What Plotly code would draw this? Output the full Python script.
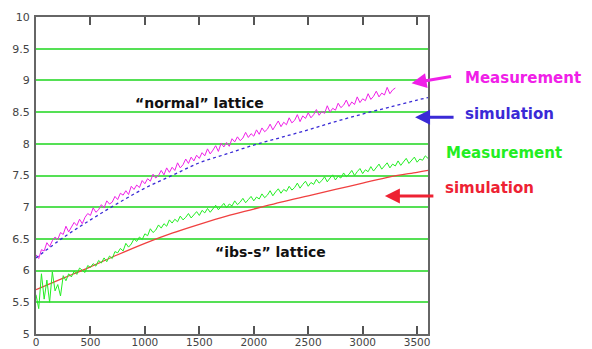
import plotly.graph_objects as go

# ---- data ----
meas_normal_x = list(range(0, 3301, 25))
meas_normal_y = [
    6.25, 6.19, 6.33, 6.31, 6.44, 6.38, 6.47, 6.53, 6.49, 6.60,
    6.57, 6.70, 6.61, 6.68, 6.76, 6.71, 6.81, 6.74, 6.84, 6.90,
    6.87, 6.99, 6.92, 6.96, 7.04, 6.99, 7.10, 7.05, 7.08, 7.17,
    7.12, 7.22, 7.19, 7.26, 7.20, 7.33, 7.28, 7.35, 7.31, 7.42,
    7.37, 7.45, 7.41, 7.52, 7.46, 7.50, 7.58, 7.51, 7.62, 7.55,
    7.63, 7.58, 7.70, 7.62, 7.67, 7.76, 7.69, 7.79, 7.73, 7.82,
    7.77, 7.86, 7.81, 7.92, 7.84, 7.90, 7.97, 7.88, 8.01, 7.95,
    8.02, 7.96, 8.08, 8.03, 8.11, 8.05, 8.09, 8.18, 8.10, 8.16,
    8.12, 8.22, 8.15, 8.25, 8.19, 8.23, 8.31, 8.22, 8.28, 8.36,
    8.27, 8.34, 8.30, 8.41, 8.33, 8.37, 8.46, 8.35, 8.44, 8.40,
    8.49, 8.41, 8.46, 8.54, 8.45, 8.51, 8.48, 8.60, 8.50, 8.56,
    8.53, 8.64, 8.57, 8.61, 8.69, 8.59, 8.66, 8.62, 8.74, 8.65,
    8.71, 8.68, 8.79, 8.70, 8.75, 8.83, 8.74, 8.80, 8.77, 8.89,
    8.79, 8.85, 8.88,
]

meas_ibs_x = list(range(0, 3601, 25))
meas_ibs_y = [
    5.62, 5.40, 5.95, 5.55, 5.85, 5.50, 5.98, 5.68, 5.78, 5.60,
    5.92, 5.84, 5.95, 5.90, 5.99, 5.94, 6.04, 6.00, 5.97, 6.08,
    6.05, 6.11, 6.07, 6.16, 6.12, 6.20, 6.14, 6.23, 6.19, 6.30,
    6.28, 6.35, 6.31, 6.43, 6.37, 6.42, 6.50, 6.46, 6.53, 6.49,
    6.58, 6.55, 6.66, 6.60, 6.64, 6.72, 6.67, 6.74, 6.70, 6.80,
    6.75, 6.81, 6.77, 6.86, 6.80, 6.84, 6.90, 6.83, 6.88, 6.93,
    6.87, 6.95, 6.91, 6.98, 6.92, 6.97, 7.03, 6.96, 7.01, 7.06,
    6.99, 7.05, 7.02, 7.10, 7.04, 7.08, 7.14, 7.07, 7.12, 7.17,
    7.10, 7.16, 7.13, 7.21, 7.15, 7.19, 7.26, 7.18, 7.24, 7.29,
    7.22, 7.28, 7.25, 7.33, 7.27, 7.31, 7.38, 7.30, 7.36, 7.41,
    7.33, 7.39, 7.36, 7.44, 7.38, 7.42, 7.48, 7.40, 7.46, 7.51,
    7.43, 7.49, 7.46, 7.54, 7.48, 7.52, 7.58, 7.50, 7.56, 7.61,
    7.53, 7.59, 7.56, 7.64, 7.57, 7.62, 7.68, 7.60, 7.66, 7.70,
    7.62, 7.68, 7.65, 7.73, 7.66, 7.71, 7.77, 7.69, 7.75, 7.79,
    7.71, 7.76, 7.74, 7.81, 7.77,
]

sim_x = [0, 250, 500, 750, 1000, 1250, 1500, 1750, 2000, 2250, 2500, 2750, 3000, 3250, 3500, 3600]
sim_normal_y = [6.20, 6.52, 6.80, 7.06, 7.30, 7.50, 7.70, 7.84, 7.98, 8.10, 8.22, 8.35, 8.47, 8.58, 8.69, 8.73]
sim_ibs_y = [5.70, 5.88, 6.06, 6.25, 6.43, 6.59, 6.73, 6.86, 6.97, 7.08, 7.18, 7.28, 7.38, 7.48, 7.55, 7.58]

x_ticks = [0, 500, 1000, 1500, 2000, 2500, 3000, 3500]
y_ticks = [5, 5.5, 6, 6.5, 7, 7.5, 8, 8.5, 9, 9.5, 10]

MAGENTA = "#f020e8"
BLUE = "#3a2ad6"
GREEN = "#22ee22"
RED = "#ee2233"

fig = go.Figure()
fig.add_trace(go.Scatter(x=sim_x, y=sim_ibs_y, mode="lines", line=dict(color="#f04040", width=1.3, shape="spline")))
fig.add_trace(go.Scatter(x=meas_ibs_x, y=meas_ibs_y, mode="lines", line=dict(color=GREEN, width=1)))
fig.add_trace(go.Scatter(x=meas_normal_x, y=meas_normal_y, mode="lines", line=dict(color=MAGENTA, width=1)))
fig.add_trace(go.Scatter(x=sim_x, y=sim_normal_y, mode="lines", line=dict(color=BLUE, width=1.3, dash="dot", shape="spline")))

tick_font = dict(family="DejaVu Sans", size=11, color="#444444")
fig.update_xaxes(range=[0, 3600], tickvals=x_ticks, ticks="inside", ticklen=8, tickwidth=1.5, tickcolor="#555555",
                 showline=True, linecolor="#666666", linewidth=2, mirror="ticks", showgrid=False, zeroline=False,
                 tickfont=dict(family="DejaVu Sans", size=10.5, color="#444444"), automargin=False,
                 ticklabelstandoff=-3)
fig.update_yaxes(range=[5, 10], tickvals=y_ticks, ticks="", showline=True, linecolor="#666666", linewidth=2,
                 mirror=True, showgrid=True, gridcolor="#55e055", gridwidth=1.5, zeroline=False, tickfont=tick_font,
                 automargin=False, ticklabelstandoff=2)

ann_font = "DejaVu Sans"
annotations = [
    dict(x=0.416, y=0.728, text="<b>“normal” lattice</b>", font=dict(family=ann_font, size=14, color="#111111")),
    dict(x=0.597, y=0.260, text="<b>“ibs-s” lattice</b>", font=dict(family=ann_font, size=14, color="#111111")),
    dict(x=1.089, y=0.807, text="<b>Measurement</b>", xanchor="left", font=dict(family=ann_font, size=15, color=MAGENTA)),
    dict(x=1.089, y=0.694, text="<b>simulation</b>", xanchor="left", font=dict(family=ann_font, size=15, color=BLUE)),
    dict(x=1.041, y=0.572, text="<b>Measurement</b>", xanchor="left", font=dict(family=ann_font, size=15, color=GREEN)),
    dict(x=1.038, y=0.461, text="<b>simulation</b>", xanchor="left", font=dict(family=ann_font, size=15, color=RED)),
]
for a in annotations:
    a.update(xref="paper", yref="paper", showarrow=False, yanchor="middle")
    a.setdefault("xanchor", "center")

arrows = [
    dict(x=0.958, y=0.791, ax=41, ay=-7, arrowcolor=MAGENTA),
    dict(x=0.967, y=0.684, ax=40, ay=0, arrowcolor=BLUE),
    dict(x=0.890, y=0.435, ax=50, ay=0, arrowcolor=RED),
]
for a in arrows:
    a.update(xref="paper", yref="paper", showarrow=True, text="", arrowhead=2, arrowsize=1, arrowwidth=3)

# page body has an 8px margin, so the figure is placed at (8, 8)
fig.update_layout(
    width=584, height=341,
    margin=dict(l=28, r=164, t=9, b=15, autoexpand=False),
    plot_bgcolor="white", paper_bgcolor="white",
    showlegend=False,
    annotations=annotations + arrows,
)
fig.write_html("out.html")
